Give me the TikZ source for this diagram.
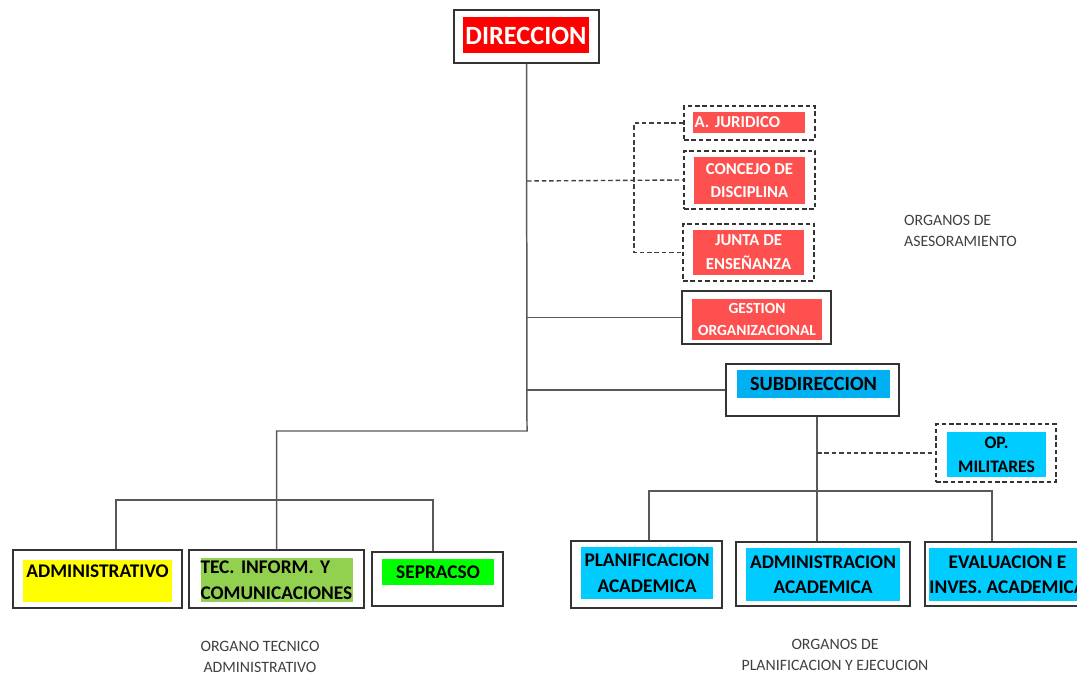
\documentclass[tikz,border=0pt]{standalone}
\usepackage{fontspec}
\setmainfont{Carlito}
\usepackage{xcolor}
\usepackage{tikz}
\usetikzlibrary{positioning}
\definecolor{rojo}{HTML}{FF0000}
\definecolor{rojoclaro}{HTML}{FF5050}
\definecolor{celeste}{HTML}{00CCFF}
\definecolor{azulsub}{HTML}{00B0F0}
\definecolor{amarillo}{HTML}{FFFF00}
\definecolor{verdetec}{HTML}{92D050}
\definecolor{verde}{HTML}{00FF00}
\definecolor{gris}{HTML}{595959}
\definecolor{textogris}{HTML}{404040}
\tikzset{marco/.style={rectangle,draw=black!80,line width=0.75pt,fill=white,inner sep=0pt},
         marcod/.style={marco,dash pattern=on 2.6pt off 1.6pt},
         caja/.style={rectangle,inner sep=0pt,font=\bfseries,align=center},
         cajablanca/.style={caja,fill=rojoclaro,text=white,font=\bfseries\fontsize{9.5}{13.5}\selectfont\frenchspacing},
         cajaabajo/.style={caja,font=\bfseries\fontsize{11}{14.5}\selectfont\frenchspacing},
         linea/.style={draw=gris,line width=0.85pt},
         punteada/.style={draw=black!75,line width=0.8pt,dash pattern=on 2.6pt off 1.6pt},
         rotulo/.style={text=textogris,font=\fontsize{9}{12}\selectfont,align=center}}

\begin{document}
\begin{tikzpicture}[x=0.02cm,y=-0.02cm]
        \useasboundingbox (0,0) rectangle (1077,678);
        \clip (0,0) rectangle (1077,678);
        % direccion
        \node[marco,minimum width=2.9cm,minimum height=1.06cm] (dirm) at (526.5,36.5) {};
        \node[caja,fill=rojo,text=white,font=\bfseries\fontsize{15}{18}\selectfont,minimum width=2.52cm,minimum height=0.72cm] (dir) at (526,35.5) {DIRECCION};

        % asesoramiento
        \node[marcod,minimum width=2.62cm,minimum height=0.68cm] (jurm) at (749.5,123) {};
        \node[cajablanca,minimum width=2.24cm,minimum height=0.42cm,text width=2.18cm,align=left] (jur) at (749,122.5) {A.~JURIDICO};
        \node[marcod,minimum width=2.62cm,minimum height=1.16cm] (conm) at (749.5,180) {};
        \node[cajablanca,minimum width=2.22cm,minimum height=0.94cm] (con) at (749.5,180.5) {CONCEJO DE\\DISCIPLINA};
        \node[marcod,minimum width=2.62cm,minimum height=1.14cm] (junm) at (748.5,252.5) {};
        \node[cajablanca,minimum width=2.22cm,minimum height=0.9cm] (jun) at (748.5,252.5) {JUNTA DE\\ENSEÑANZA};
        \node[marco,minimum width=2.98cm,minimum height=1.06cm] (gesm) at (756.5,317.5) {};
        \node[cajablanca,font=\bfseries\fontsize{8.8}{12.5}\selectfont,minimum width=2.6cm,minimum height=0.82cm] (ges) at (757,319.5) {GESTION\\ORGANIZACIONAL};
        \node[rotulo,align=left,anchor=west] (ase) at (898,230.5) {ORGANOS DE\\ASESORAMIENTO};

        % subdireccion
        \node[marco,minimum width=3.46cm,minimum height=1.04cm] (subm) at (812.5,390) {};
        \node[caja,fill=azulsub,font=\bfseries\fontsize{11.5}{14}\selectfont,minimum width=3.06cm,minimum height=0.56cm] (sub) at (813.5,384) {SUBDIRECCION};
        \node[marcod,minimum width=2.4cm,minimum height=1.16cm] (opm) at (996,453) {};
        \node[caja,fill=celeste,font=\bfseries\fontsize{10}{13.5}\selectfont,minimum width=1.98cm,minimum height=0.9cm] (op) at (996.5,454.5) {OP.\\MILITARES};

        % organo tecnico administrativo
        \node[marco,minimum width=3.38cm,minimum height=1.16cm] (admm) at (97.5,579) {};
        \node[cajaabajo,fill=amarillo,minimum width=2.98cm,minimum height=0.84cm] (adm) at (97.5,581) {ADMINISTRATIVO\\[-8pt]\strut};
        \node[marco,minimum width=3.5cm,minimum height=1.16cm] (tecm) at (276.5,579) {};
        \node[cajaabajo,fill=verdetec,align=left,text width=3.06cm,minimum height=0.9cm] (tec) at (277,580) {TEC.~INFORM.~Y\\COMUNICACIONES};
        \node[marco,minimum width=2.62cm,minimum height=1.08cm] (sepm) at (437.5,579) {};
        \node[cajaabajo,fill=verde,minimum width=2.24cm,minimum height=0.52cm] (sep) at (438,572) {SEPRACSO};
        \node[rotulo] (ota) at (260,656.5) {ORGANO TECNICO\\ADMINISTRATIVO};

        % organos de planificacion y ejecucion
        \node[marco,minimum width=3.02cm,minimum height=1.34cm] (plam) at (646.5,574.5) {};
        \node[cajaabajo,fill=celeste,minimum width=2.64cm,minimum height=1.04cm] (pla) at (647,573) {PLANIFICACION\\ACADEMICA};
        \node[marco,minimum width=3.48cm,minimum height=1.28cm] (aacm) at (823,574) {};
        \node[cajaabajo,fill=celeste,minimum width=3.08cm,minimum height=1.06cm] (aac) at (823,574.5) {ADMINISTRACION\\ACADEMICA};
        \node[marco,minimum width=3.3cm,minimum height=1.28cm] (evam) at (1007.5,574) {};
        \node[cajaabajo,fill=celeste,minimum width=2.9cm,minimum height=1.06cm] (eva) at (1007.5,574.5) {EVALUACION E\\INVES. ACADEMICA};
        \node[rotulo] (ope) at (835,655) {ORGANOS DE\\PLANIFICACION Y EJECUCION};

        % conectores
        \coordinate (tronco) at (527,431);
        \coordinate (llave) at (634,181);
        \coordinate (bi) at (116,500);
        \coordinate (bd) at (433,500);
        \coordinate (sv) at (817,491);
        \coordinate (pi) at (649,491);
        \coordinate (pd) at (992,491);

        \draw[linea] (dirm.south) -- (tronco) -| (tecm.north);
        \draw[linea] (bi |- admm.north) -- (bi) -- (bd) -- (bd |- sepm.north);
        \draw[linea] (tronco |- gesm.west) -- (gesm.west);
        \draw[linea] (tronco |- subm.west) -- (subm.west);
        \draw[punteada] (tronco |- llave) -- (conm.west);
        \draw[punteada] (jurm.west) -| (llave) |- (junm.west);

        \draw[linea] (sv |- subm.south) -- (sv |- aacm.north);
        \draw[punteada] (sv |- opm.west) -- (opm.west);
        \draw[linea] (pi |- plam.north) -- (pi) -- (pd) -- (pd |- evam.north);
    \end{tikzpicture}
\end{document}
